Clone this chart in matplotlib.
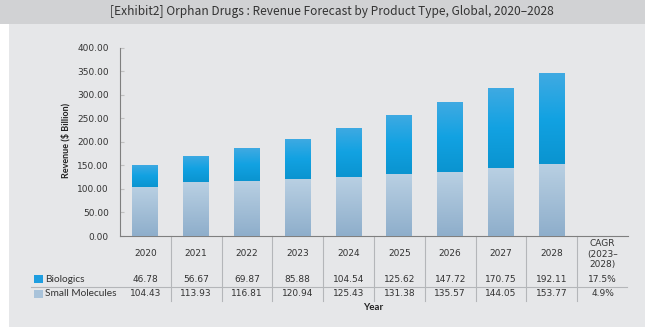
import numpy as np
import matplotlib
matplotlib.use("Agg")
import matplotlib.pyplot as plt
from matplotlib.patches import Rectangle
from matplotlib.lines import Line2D
from matplotlib.colors import LinearSegmentedColormap
import matplotlib.transforms as mtransforms

# data
years = ["2020", "2021", "2022", "2023", "2024", "2025", "2026", "2027", "2028"]
biologics = [46.78, 56.67, 69.87, 85.88, 104.54, 125.62, 147.72, 170.75, 192.11]
small_molecules = [104.43, 113.93, 116.81, 120.94, 125.43, 131.38, 135.57, 144.05, 153.77]
cagr_header = "CAGR\n(2023–\n2028)"
cagr = {"Biologics": "17.5%", "Small Molecules": "4.9%"}
yticks = [0, 50, 100, 150, 200, 250, 300, 350, 400]

W, H = 645, 327
fig = plt.figure(figsize=(W / 100, H / 100), dpi=100)
fig.patch.set_facecolor("white")

def fy(py):
    # pixel row -> figure fraction
    return 1 - py / H

# background panels
fig.patches.append(Rectangle((9 / W, 0), 1, fy(24), transform=fig.transFigure,
                             facecolor="#e6e7e9", edgecolor="none", zorder=-10))
fig.patches.append(Rectangle((0, fy(24)), 1, 24 / H, transform=fig.transFigure,
                             facecolor="#d1d2d4", edgecolor="none", zorder=-10))
fig.text(332 / W, fy(12), "[Exhibit2] Orphan Drugs : Revenue Forecast by Product Type, Global, 2020–2028",
         ha="center", va="center", fontsize=8.6, color="#333333",
         family=["Noto Sans CJK KR", "DejaVu Sans"])

ax = fig.add_axes([120 / W, fy(236), 508 / W, (236 - 47.5) / H])
ax.set_facecolor("none")

x = np.arange(len(years))
bw = 0.51
sm_bars = ax.bar(x, small_molecules, bw, color="#a9c3da", zorder=2)
bio_bars = ax.bar(x, biologics, bw, bottom=small_molecules, color="#1e9ee0", zorder=2)

# vertical gradient fill clipped to each bar
sm_cmap = LinearSegmentedColormap.from_list("sm", ["#8eaecb", "#b9d0e3"])
bio_cmap = LinearSegmentedColormap.from_list("bio", ["#0a94d0", "#12a2e2", "#40aae2"])
grad = np.linspace(0, 1, 256).reshape(-1, 1)
for bars, cmap in ((sm_bars, sm_cmap), (bio_bars, bio_cmap)):
    for b in bars:
        x0, y0 = b.get_x(), b.get_y()
        im = ax.imshow(grad, cmap=cmap, origin="lower", aspect="auto",
                       extent=[x0, x0 + b.get_width(), y0, y0 + b.get_height()], zorder=3)
        im.set_clip_path(b)
ax.set_xlim(-0.5, 9.5)
ax.set_ylim(0, 400)

for s in ["top", "right"]:
    ax.spines[s].set_visible(False)
ax.spines["left"].set_color("#7f7f7f")
ax.spines["bottom"].set_color("#7f7f7f")
ax.set_xticks([])
ax.set_yticks(yticks)
ax.set_yticklabels(["%.2f" % v for v in yticks])
ax.tick_params(axis="y", direction="in", length=3, color="#c0c0c0", pad=8,
               labelsize=6.5, labelcolor="#333333")

fig.text(66 / W, fy(140), "Revenue ($ Billion)", rotation=90, ha="center", va="center",
         fontsize=6.5, fontweight="bold", color="#222222", family="Lato")

# data table below the axis
tr = mtransforms.blended_transform_factory(ax.transData, fig.transFigure)
num_kw = dict(ha="center", va="center", fontsize=6.5, color="#333333",
              family="DejaVu Sans", transform=tr, clip_on=False)
for i, yr in enumerate(years):
    ax.text(i, fy(254), yr, **num_kw)
    ax.text(i, fy(279), "%.2f" % biologics[i], **num_kw)
    ax.text(i, fy(294), "%.2f" % small_molecules[i], **num_kw)
ax.text(9, fy(254), cagr_header, linespacing=1.15, **num_kw)
ax.text(9, fy(279), cagr["Biologics"], **num_kw)
ax.text(9, fy(294), cagr["Small Molecules"], **num_kw)

for i in range(1, 10):
    ax.add_line(Line2D([i - 0.5, i - 0.5], [fy(236), fy(301)], transform=tr,
                       color="#b4b6b9", linewidth=0.8, clip_on=False))

fig.add_artist(Line2D([31 / W, 627 / W], [fy(287), fy(287)], transform=fig.transFigure,
                      color="#b4b6b9", linewidth=0.8))

# legend keys in the row headers
for py, col, label in ((279, "#1e9ee0", "Biologics"), (294, "#a9c3da", "Small Molecules")):
    fig.patches.append(Rectangle((34 / W, fy(py + 4)), 9 / W, 8 / H, transform=fig.transFigure,
                                 facecolor=col, edgecolor="none"))
    fig.text(45 / W, fy(py), label, ha="left", va="center", fontsize=7.3,
             color="#333333", family="Lato")

fig.text(373 / W, fy(307), "Year", ha="center", va="center", fontsize=7,
         fontweight="bold", color="#222222", family="Lato")

fig.savefig("out.png", dpi=100, facecolor=fig.get_facecolor())
